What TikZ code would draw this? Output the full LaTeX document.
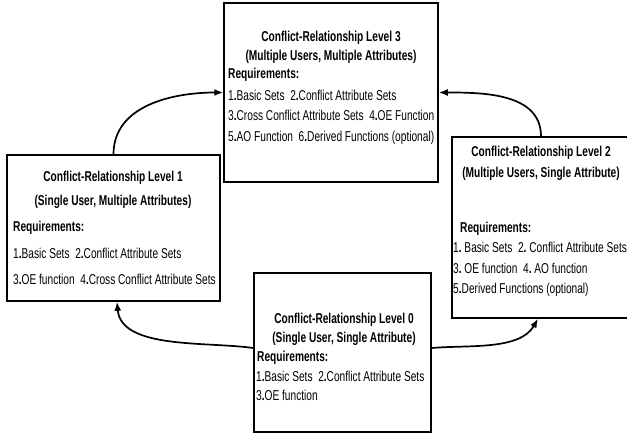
\documentclass[tikz,border=0pt]{standalone}
\usepackage{fontspec}
\setmainfont{Liberation Sans}[FakeStretch=0.71]
\usetikzlibrary{arrows.meta}
\newcommand\fsz{\fontsize{14.3}{17}\selectfont}
\newcommand\bd{\textbf{.}}
\begin{document}
\begin{tikzpicture}[x=1pt,y=1pt,
  box/.style={draw=black, line width=1.5pt, rectangle, inner sep=0pt, fill=white},
  ttl/.style={font=\fsz\bfseries, anchor=base, inner sep=0pt},
  req/.style={font=\fsz\bfseries, anchor=base west, inner sep=0pt},
  itm/.style={font=\fsz, anchor=base west, inner sep=0pt},
  arr/.style={line width=1.7pt, -{Latex[length=9pt,width=7pt]}}]
\useasboundingbox (0,0) rectangle (627,-436);
\fill[white] (0,0) rectangle (627,-436);
% boxes
\node[box, minimum width=214pt, minimum height=179pt] (B3) at (331,-92.5) {};
\node[box, minimum width=213pt, minimum height=146pt] (B1) at (113.5,-228) {};
\node[box, minimum width=178pt, minimum height=181pt] (B2) at (541,-227.5) {};
\node[box, minimum width=177pt, minimum height=159pt] (B0) at (342.5,-352.5) {};
% level 3 text
\node[ttl] (B3a) at (331,-42) {Conflict-Relationship Level 3};
\node[ttl] (B3b) at (331,-60.5) {(Multiple Users, Multiple Attributes)};
\node[req] (B3c) at (228,-79) {Requirements:};
\node[itm] (B3d) at (228,-100) {1\bd Basic Sets\ \ 2\bd Conflict Attribute Sets};
\node[itm] (B3e) at (228,-121) {3\bd Cross Conflict Attribute Sets\ \ 4\bd OE Function};
\node[itm] (B3f) at (228,-142) {5\bd AO Function\ \ 6\bd Derived Functions (optional)};
% level 1 text
\node[ttl] (B1a) at (113,-181) {Conflict-Relationship Level 1};
\node[ttl] (B1b) at (113,-205) {(Single User, Multiple Attributes)};
\node[req] (B1c) at (13,-231) {Requirements:};
\node[itm] (B1d) at (13,-258) {1\bd Basic Sets\ \ 2\bd Conflict Attribute Sets};
\node[itm] (B1e) at (13,-284) {3\bd OE function\ \ 4\bd Cross Conflict Attribute Sets};
% level 2 text
\node[ttl] (B2a) at (541,-157) {Conflict-Relationship Level 2};
\node[ttl] (B2b) at (541,-177) {(Multiple Users, Single Attribute)};
\node[req] (B2c) at (460,-232) {Requirements:};
\node[itm] (B2d) at (453,-252) {1\bd\ Basic Sets\ \ 2\bd\ Conflict Attribute Sets};
\node[itm] (B2e) at (453,-273) {3\bd\ OE function\ \ 4\bd\ AO function};
\node[itm] (B2f) at (453,-293) {5\bd Derived Functions (optional)};
% level 0 text
\node[ttl] (B0a) at (344,-323) {Conflict-Relationship Level 0};
\node[ttl] (B0b) at (344,-342) {(Single User, Single Attribute)};
\node[req] (B0c) at (257,-361) {Requirements:};
\node[itm] (B0d) at (256,-381) {1\bd Basic Sets\ \ 2\bd Conflict Attribute Sets};
\node[itm] (B0e) at (256,-400) {3\bd OE function};
% arrows
\draw[arr] (B1.north) to[out=90,in=180] (B3.west);
\draw[arr] (B2.north) to[out=90,in=0] (B3.east);
\draw[arr] ([yshift=4.5pt]B0.west) to[out=172,in=-85,looseness=0.85] ([xshift=3.5pt]B1.south);
\draw[arr] ([yshift=4.5pt]B0.east) to[out=5,in=240,looseness=0.85] ([xshift=-3pt]B2.south);
\end{tikzpicture}
\end{document}
